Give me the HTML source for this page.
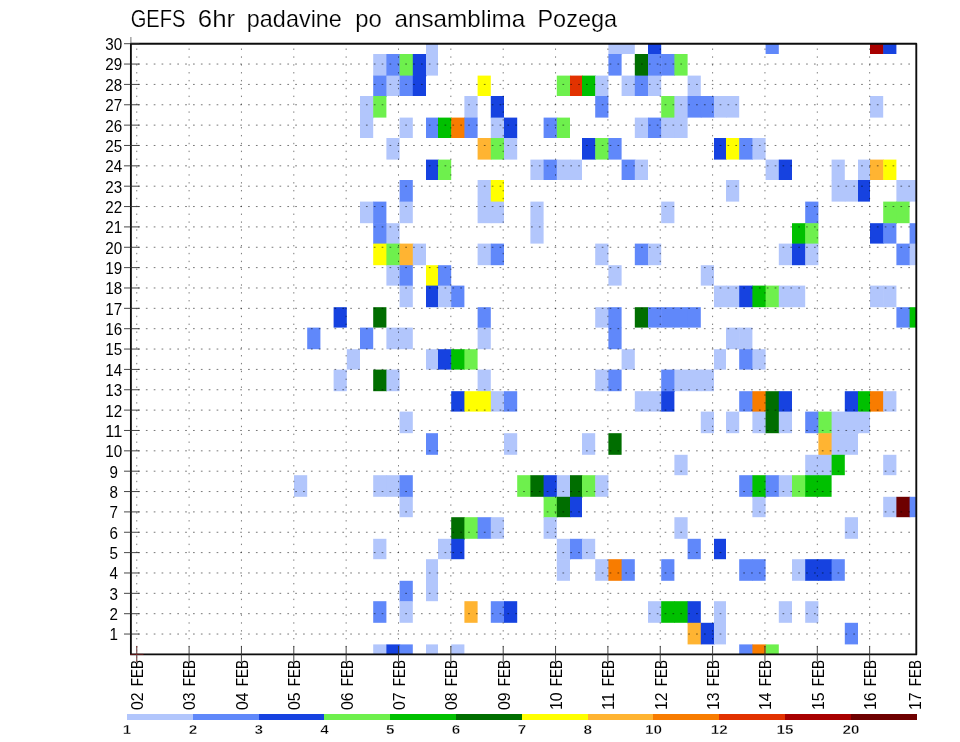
<!DOCTYPE html>
<html><head><meta charset="utf-8"><title>GEFS 6hr padavine po ansamblima Pozega</title>
<style>html,body{margin:0;padding:0;background:#fff;}body{width:960px;height:742px;overflow:hidden;font-family:"Liberation Sans",sans-serif;}svg{display:block;will-change:transform;}text{font-family:"Liberation Sans",sans-serif;fill:#000;}</style></head><body>
<svg width="960" height="742" viewBox="0 0 960 742">
<rect x="0" y="0" width="960" height="742" fill="#fff"/>
<defs><filter id="bl" x="0" y="0" width="960" height="742" filterUnits="userSpaceOnUse"><feGaussianBlur stdDeviation="0.4"/></filter><clipPath id="cp"><rect x="130.9" y="43.7" width="785.4" height="610.7"/></clipPath></defs>
<g filter="url(#bl)">
<g font-size="23.8" stroke="#fff" stroke-width="0.2">
<text x="130.7" y="26.5" textLength="54.8" lengthAdjust="spacingAndGlyphs">GEFS</text>
<text x="197.8" y="26.5" textLength="37.4" lengthAdjust="spacingAndGlyphs">6hr</text>
<text x="246.8" y="26.5" textLength="95.1" lengthAdjust="spacingAndGlyphs">padavine</text>
<text x="355.2" y="26.5" textLength="26.6" lengthAdjust="spacingAndGlyphs">po</text>
<text x="394.5" y="26.5" textLength="130.7" lengthAdjust="spacingAndGlyphs">ansamblima</text>
<text x="537.4" y="26.5" textLength="79.7" lengthAdjust="spacingAndGlyphs">Pozega</text>
</g>
<g clip-path="url(#cp)">
<rect x="426" y="33.6" width="12" height="21" fill="#B2C6FC"/>
<rect x="608.4" y="33.6" width="13.8" height="21" fill="#B2C6FC"/>
<rect x="621.6" y="33.6" width="13.2" height="20.4" fill="#B2C6FC"/>
<rect x="648" y="33.6" width="13.2" height="21" fill="#1443E0"/>
<rect x="765.6" y="33.6" width="13.2" height="20.4" fill="#6088FA"/>
<rect x="870" y="33.6" width="13.8" height="20.4" fill="#A80000"/>
<rect x="883.2" y="33.6" width="13.2" height="20.4" fill="#1443E0"/>
<rect x="373.2" y="54" width="13.8" height="22.2" fill="#B2C6FC"/>
<rect x="386.4" y="54" width="13.8" height="22.2" fill="#6088FA"/>
<rect x="399.6" y="54" width="13.8" height="22.2" fill="#6EF04E"/>
<rect x="412.8" y="54" width="13.8" height="22.2" fill="#1443E0"/>
<rect x="426" y="54" width="12" height="21.6" fill="#B2C6FC"/>
<rect x="608.4" y="54" width="13.2" height="21.6" fill="#6088FA"/>
<rect x="634.8" y="54" width="13.8" height="22.2" fill="#006E00"/>
<rect x="648" y="54" width="13.8" height="22.2" fill="#6088FA"/>
<rect x="661.2" y="54" width="13.8" height="21.6" fill="#6088FA"/>
<rect x="674.4" y="54" width="13.2" height="21.6" fill="#6EF04E"/>
<rect x="373.2" y="75.6" width="13.8" height="21" fill="#6088FA"/>
<rect x="386.4" y="75.6" width="13.8" height="20.4" fill="#B2C6FC"/>
<rect x="399.6" y="75.6" width="13.8" height="20.4" fill="#6088FA"/>
<rect x="412.8" y="75.6" width="13.2" height="20.4" fill="#1443E0"/>
<rect x="477.6" y="75.6" width="13.2" height="20.4" fill="#FFFF00"/>
<rect x="556.8" y="75.6" width="13.8" height="20.4" fill="#6EF04E"/>
<rect x="570" y="75.6" width="12.6" height="20.4" fill="#E23200"/>
<rect x="582" y="75.6" width="13.8" height="20.4" fill="#00C000"/>
<rect x="595.2" y="75.6" width="13.2" height="21" fill="#B2C6FC"/>
<rect x="621.6" y="75.6" width="13.8" height="20.4" fill="#B2C6FC"/>
<rect x="634.8" y="75.6" width="13.8" height="20.4" fill="#6088FA"/>
<rect x="648" y="75.6" width="13.2" height="20.4" fill="#B2C6FC"/>
<rect x="687.6" y="75.6" width="13.2" height="21" fill="#B2C6FC"/>
<rect x="360" y="96" width="13.8" height="22.2" fill="#B2C6FC"/>
<rect x="373.2" y="96" width="13.2" height="21.6" fill="#6EF04E"/>
<rect x="464.4" y="96" width="13.2" height="22.2" fill="#B2C6FC"/>
<rect x="490.8" y="96" width="13.2" height="22.2" fill="#1443E0"/>
<rect x="595.2" y="96" width="13.2" height="21.6" fill="#6088FA"/>
<rect x="661.2" y="96" width="13.8" height="22.2" fill="#6EF04E"/>
<rect x="674.4" y="96" width="13.8" height="22.2" fill="#B2C6FC"/>
<rect x="687.6" y="96" width="13.8" height="21.6" fill="#6088FA"/>
<rect x="700.8" y="96" width="13.8" height="21.6" fill="#6088FA"/>
<rect x="714" y="96" width="12.6" height="21.6" fill="#B2C6FC"/>
<rect x="726" y="96" width="13.2" height="21.6" fill="#B2C6FC"/>
<rect x="870" y="96" width="13.2" height="21.6" fill="#B2C6FC"/>
<rect x="360" y="117.6" width="13.2" height="20.4" fill="#B2C6FC"/>
<rect x="399.6" y="117.6" width="13.2" height="20.4" fill="#B2C6FC"/>
<rect x="426" y="117.6" width="12.6" height="20.4" fill="#6088FA"/>
<rect x="438" y="117.6" width="13.8" height="20.4" fill="#00C000"/>
<rect x="451.2" y="117.6" width="13.8" height="20.4" fill="#F87C00"/>
<rect x="464.4" y="117.6" width="13.2" height="20.4" fill="#6088FA"/>
<rect x="490.8" y="117.6" width="13.8" height="21" fill="#B2C6FC"/>
<rect x="504" y="117.6" width="13.2" height="21" fill="#1443E0"/>
<rect x="543.6" y="117.6" width="13.8" height="20.4" fill="#6088FA"/>
<rect x="556.8" y="117.6" width="13.2" height="20.4" fill="#6EF04E"/>
<rect x="634.8" y="117.6" width="13.8" height="20.4" fill="#B2C6FC"/>
<rect x="648" y="117.6" width="13.8" height="20.4" fill="#6088FA"/>
<rect x="661.2" y="117.6" width="13.8" height="20.4" fill="#B2C6FC"/>
<rect x="674.4" y="117.6" width="13.2" height="20.4" fill="#B2C6FC"/>
<rect x="386.4" y="138" width="13.2" height="21.6" fill="#B2C6FC"/>
<rect x="477.6" y="138" width="13.8" height="21.6" fill="#FFB432"/>
<rect x="490.8" y="138" width="13.8" height="21.6" fill="#6EF04E"/>
<rect x="504" y="138" width="13.2" height="21.6" fill="#B2C6FC"/>
<rect x="582" y="138" width="13.8" height="21.6" fill="#1443E0"/>
<rect x="595.2" y="138" width="13.8" height="21.6" fill="#6EF04E"/>
<rect x="608.4" y="138" width="13.2" height="21.6" fill="#6088FA"/>
<rect x="714" y="138" width="12.6" height="21.6" fill="#1443E0"/>
<rect x="726" y="138" width="13.8" height="21.6" fill="#FFFF00"/>
<rect x="739.2" y="138" width="13.8" height="21.6" fill="#6088FA"/>
<rect x="752.4" y="138" width="13.2" height="21.6" fill="#B2C6FC"/>
<rect x="426" y="159.6" width="12.6" height="20.4" fill="#1443E0"/>
<rect x="438" y="159.6" width="13.2" height="20.4" fill="#6EF04E"/>
<rect x="530.4" y="159.6" width="13.8" height="20.4" fill="#B2C6FC"/>
<rect x="543.6" y="159.6" width="13.8" height="20.4" fill="#6088FA"/>
<rect x="556.8" y="159.6" width="13.8" height="20.4" fill="#B2C6FC"/>
<rect x="570" y="159.6" width="12" height="20.4" fill="#B2C6FC"/>
<rect x="621.6" y="159.6" width="13.8" height="20.4" fill="#6088FA"/>
<rect x="634.8" y="159.6" width="13.2" height="20.4" fill="#B2C6FC"/>
<rect x="765.6" y="159.6" width="13.8" height="20.4" fill="#B2C6FC"/>
<rect x="778.8" y="159.6" width="13.2" height="20.4" fill="#1443E0"/>
<rect x="831.6" y="159.6" width="13.2" height="21" fill="#B2C6FC"/>
<rect x="858" y="159.6" width="12.6" height="21" fill="#B2C6FC"/>
<rect x="870" y="159.6" width="13.8" height="20.4" fill="#FFB432"/>
<rect x="883.2" y="159.6" width="13.2" height="20.4" fill="#FFFF00"/>
<rect x="399.6" y="180" width="13.2" height="22.2" fill="#6088FA"/>
<rect x="477.6" y="180" width="13.8" height="22.2" fill="#B2C6FC"/>
<rect x="490.8" y="180" width="13.2" height="22.2" fill="#FFFF00"/>
<rect x="726" y="180" width="13.2" height="21.6" fill="#B2C6FC"/>
<rect x="831.6" y="180" width="13.8" height="21.6" fill="#B2C6FC"/>
<rect x="844.8" y="180" width="13.8" height="21.6" fill="#B2C6FC"/>
<rect x="858" y="180" width="12" height="21.6" fill="#1443E0"/>
<rect x="896.4" y="180" width="13.8" height="22.2" fill="#B2C6FC"/>
<rect x="909.6" y="180" width="13.2" height="21.6" fill="#B2C6FC"/>
<rect x="360" y="201.6" width="13.8" height="21.6" fill="#B2C6FC"/>
<rect x="373.2" y="201.6" width="13.2" height="22.2" fill="#6088FA"/>
<rect x="399.6" y="201.6" width="13.2" height="21.6" fill="#B2C6FC"/>
<rect x="477.6" y="201.6" width="13.8" height="21.6" fill="#B2C6FC"/>
<rect x="490.8" y="201.6" width="13.2" height="21.6" fill="#B2C6FC"/>
<rect x="530.4" y="201.6" width="13.2" height="22.2" fill="#B2C6FC"/>
<rect x="661.2" y="201.6" width="13.2" height="21.6" fill="#B2C6FC"/>
<rect x="805.2" y="201.6" width="13.2" height="22.2" fill="#6088FA"/>
<rect x="883.2" y="201.6" width="13.8" height="22.2" fill="#6EF04E"/>
<rect x="896.4" y="201.6" width="13.2" height="21.6" fill="#6EF04E"/>
<rect x="373.2" y="223.2" width="13.8" height="21" fill="#6088FA"/>
<rect x="386.4" y="223.2" width="13.2" height="21" fill="#B2C6FC"/>
<rect x="530.4" y="223.2" width="13.2" height="20.4" fill="#B2C6FC"/>
<rect x="792" y="223.2" width="13.8" height="21" fill="#00C000"/>
<rect x="805.2" y="223.2" width="13.2" height="21" fill="#6EF04E"/>
<rect x="870" y="223.2" width="13.8" height="20.4" fill="#1443E0"/>
<rect x="883.2" y="223.2" width="13.2" height="20.4" fill="#6088FA"/>
<rect x="909.6" y="223.2" width="13.2" height="21" fill="#6088FA"/>
<rect x="373.2" y="243.6" width="13.8" height="21.6" fill="#FFFF00"/>
<rect x="386.4" y="243.6" width="13.8" height="22.2" fill="#6EF04E"/>
<rect x="399.6" y="243.6" width="13.8" height="22.2" fill="#FFB432"/>
<rect x="412.8" y="243.6" width="13.2" height="21.6" fill="#B2C6FC"/>
<rect x="477.6" y="243.6" width="13.8" height="21.6" fill="#B2C6FC"/>
<rect x="490.8" y="243.6" width="13.2" height="21.6" fill="#6088FA"/>
<rect x="595.2" y="243.6" width="13.2" height="21.6" fill="#B2C6FC"/>
<rect x="634.8" y="243.6" width="13.8" height="21.6" fill="#6088FA"/>
<rect x="648" y="243.6" width="13.2" height="21.6" fill="#B2C6FC"/>
<rect x="778.8" y="243.6" width="13.8" height="21.6" fill="#B2C6FC"/>
<rect x="792" y="243.6" width="13.8" height="21.6" fill="#1443E0"/>
<rect x="805.2" y="243.6" width="13.2" height="21.6" fill="#B2C6FC"/>
<rect x="896.4" y="243.6" width="13.8" height="21.6" fill="#6088FA"/>
<rect x="909.6" y="243.6" width="13.2" height="21.6" fill="#B2C6FC"/>
<rect x="386.4" y="265.2" width="13.8" height="20.4" fill="#B2C6FC"/>
<rect x="399.6" y="265.2" width="13.2" height="21" fill="#6088FA"/>
<rect x="426" y="265.2" width="12.6" height="21" fill="#FFFF00"/>
<rect x="438" y="265.2" width="13.2" height="21" fill="#6088FA"/>
<rect x="608.4" y="265.2" width="13.2" height="20.4" fill="#B2C6FC"/>
<rect x="700.8" y="265.2" width="13.2" height="20.4" fill="#B2C6FC"/>
<rect x="399.6" y="285.6" width="13.2" height="21.6" fill="#B2C6FC"/>
<rect x="426" y="285.6" width="12.6" height="21.6" fill="#1443E0"/>
<rect x="438" y="285.6" width="13.8" height="21.6" fill="#B2C6FC"/>
<rect x="451.2" y="285.6" width="13.2" height="21.6" fill="#6088FA"/>
<rect x="714" y="285.6" width="12.6" height="21.6" fill="#B2C6FC"/>
<rect x="726" y="285.6" width="13.8" height="21.6" fill="#B2C6FC"/>
<rect x="739.2" y="285.6" width="13.8" height="21.6" fill="#1443E0"/>
<rect x="752.4" y="285.6" width="13.8" height="21.6" fill="#00C000"/>
<rect x="765.6" y="285.6" width="13.8" height="21.6" fill="#6EF04E"/>
<rect x="778.8" y="285.6" width="13.8" height="21.6" fill="#B2C6FC"/>
<rect x="792" y="285.6" width="13.2" height="21.6" fill="#B2C6FC"/>
<rect x="870" y="285.6" width="13.8" height="21.6" fill="#B2C6FC"/>
<rect x="883.2" y="285.6" width="13.2" height="21.6" fill="#B2C6FC"/>
<rect x="333.6" y="307.2" width="13.2" height="20.4" fill="#1443E0"/>
<rect x="373.2" y="307.2" width="13.2" height="20.4" fill="#006E00"/>
<rect x="477.6" y="307.2" width="13.2" height="21" fill="#6088FA"/>
<rect x="595.2" y="307.2" width="13.8" height="20.4" fill="#B2C6FC"/>
<rect x="608.4" y="307.2" width="13.2" height="21" fill="#6088FA"/>
<rect x="634.8" y="307.2" width="13.8" height="20.4" fill="#006E00"/>
<rect x="648" y="307.2" width="13.8" height="20.4" fill="#6088FA"/>
<rect x="661.2" y="307.2" width="13.8" height="20.4" fill="#6088FA"/>
<rect x="674.4" y="307.2" width="13.8" height="20.4" fill="#6088FA"/>
<rect x="687.6" y="307.2" width="13.2" height="20.4" fill="#6088FA"/>
<rect x="896.4" y="307.2" width="13.8" height="20.4" fill="#6088FA"/>
<rect x="909.6" y="307.2" width="13.2" height="20.4" fill="#00C000"/>
<rect x="307.2" y="327.6" width="13.2" height="21.6" fill="#6088FA"/>
<rect x="360" y="327.6" width="13.2" height="21.6" fill="#6088FA"/>
<rect x="386.4" y="327.6" width="13.8" height="21.6" fill="#B2C6FC"/>
<rect x="399.6" y="327.6" width="13.2" height="21.6" fill="#B2C6FC"/>
<rect x="477.6" y="327.6" width="13.2" height="21.6" fill="#B2C6FC"/>
<rect x="608.4" y="327.6" width="13.2" height="21.6" fill="#6088FA"/>
<rect x="726" y="327.6" width="13.8" height="21.6" fill="#B2C6FC"/>
<rect x="739.2" y="327.6" width="13.2" height="22.2" fill="#B2C6FC"/>
<rect x="346.8" y="349.2" width="13.2" height="20.4" fill="#B2C6FC"/>
<rect x="426" y="349.2" width="12.6" height="20.4" fill="#B2C6FC"/>
<rect x="438" y="349.2" width="13.8" height="20.4" fill="#1443E0"/>
<rect x="451.2" y="349.2" width="13.8" height="20.4" fill="#00C000"/>
<rect x="464.4" y="349.2" width="13.2" height="20.4" fill="#6EF04E"/>
<rect x="621.6" y="349.2" width="13.2" height="20.4" fill="#B2C6FC"/>
<rect x="714" y="349.2" width="12" height="20.4" fill="#B2C6FC"/>
<rect x="739.2" y="349.2" width="13.8" height="20.4" fill="#6088FA"/>
<rect x="752.4" y="349.2" width="13.2" height="20.4" fill="#B2C6FC"/>
<rect x="333.6" y="369.6" width="13.2" height="21.6" fill="#B2C6FC"/>
<rect x="373.2" y="369.6" width="13.8" height="21.6" fill="#006E00"/>
<rect x="386.4" y="369.6" width="13.2" height="21.6" fill="#B2C6FC"/>
<rect x="477.6" y="369.6" width="13.2" height="22.2" fill="#B2C6FC"/>
<rect x="595.2" y="369.6" width="13.8" height="21.6" fill="#B2C6FC"/>
<rect x="608.4" y="369.6" width="13.2" height="21.6" fill="#6088FA"/>
<rect x="661.2" y="369.6" width="13.8" height="22.2" fill="#6088FA"/>
<rect x="674.4" y="369.6" width="13.8" height="21.6" fill="#B2C6FC"/>
<rect x="687.6" y="369.6" width="13.8" height="21.6" fill="#B2C6FC"/>
<rect x="700.8" y="369.6" width="13.2" height="21.6" fill="#B2C6FC"/>
<rect x="451.2" y="391.2" width="13.8" height="20.4" fill="#1443E0"/>
<rect x="464.4" y="391.2" width="13.8" height="20.4" fill="#FFFF00"/>
<rect x="477.6" y="391.2" width="13.8" height="20.4" fill="#FFFF00"/>
<rect x="490.8" y="391.2" width="13.8" height="20.4" fill="#B2C6FC"/>
<rect x="504" y="391.2" width="13.2" height="20.4" fill="#6088FA"/>
<rect x="634.8" y="391.2" width="13.8" height="20.4" fill="#B2C6FC"/>
<rect x="648" y="391.2" width="13.8" height="20.4" fill="#B2C6FC"/>
<rect x="661.2" y="391.2" width="13.2" height="20.4" fill="#1443E0"/>
<rect x="739.2" y="391.2" width="13.8" height="20.4" fill="#6088FA"/>
<rect x="752.4" y="391.2" width="13.8" height="21" fill="#F87C00"/>
<rect x="765.6" y="391.2" width="13.8" height="21" fill="#006E00"/>
<rect x="778.8" y="391.2" width="13.2" height="21" fill="#1443E0"/>
<rect x="844.8" y="391.2" width="13.8" height="21" fill="#1443E0"/>
<rect x="858" y="391.2" width="12.6" height="21" fill="#00C000"/>
<rect x="870" y="391.2" width="13.8" height="20.4" fill="#F87C00"/>
<rect x="883.2" y="391.2" width="13.2" height="20.4" fill="#B2C6FC"/>
<rect x="399.6" y="411.6" width="13.2" height="21.6" fill="#B2C6FC"/>
<rect x="700.8" y="411.6" width="13.2" height="21.6" fill="#B2C6FC"/>
<rect x="726" y="411.6" width="13.2" height="21.6" fill="#B2C6FC"/>
<rect x="752.4" y="411.6" width="13.8" height="21.6" fill="#B2C6FC"/>
<rect x="765.6" y="411.6" width="13.8" height="21.6" fill="#006E00"/>
<rect x="778.8" y="411.6" width="13.2" height="21.6" fill="#B2C6FC"/>
<rect x="805.2" y="411.6" width="13.8" height="21.6" fill="#6088FA"/>
<rect x="818.4" y="411.6" width="13.8" height="22.2" fill="#6EF04E"/>
<rect x="831.6" y="411.6" width="13.8" height="22.2" fill="#B2C6FC"/>
<rect x="844.8" y="411.6" width="13.8" height="22.2" fill="#B2C6FC"/>
<rect x="858" y="411.6" width="12" height="21.6" fill="#B2C6FC"/>
<rect x="426" y="433.2" width="12" height="21.6" fill="#6088FA"/>
<rect x="504" y="433.2" width="13.2" height="21.6" fill="#B2C6FC"/>
<rect x="582" y="433.2" width="13.2" height="21.6" fill="#B2C6FC"/>
<rect x="608.4" y="433.2" width="13.2" height="21.6" fill="#006E00"/>
<rect x="818.4" y="433.2" width="13.8" height="22.2" fill="#FFB432"/>
<rect x="831.6" y="433.2" width="13.8" height="22.2" fill="#B2C6FC"/>
<rect x="844.8" y="433.2" width="13.2" height="21.6" fill="#B2C6FC"/>
<rect x="674.4" y="454.8" width="13.2" height="20.4" fill="#B2C6FC"/>
<rect x="805.2" y="454.8" width="13.8" height="21" fill="#B2C6FC"/>
<rect x="818.4" y="454.8" width="13.8" height="21" fill="#B2C6FC"/>
<rect x="831.6" y="454.8" width="13.2" height="20.4" fill="#00C000"/>
<rect x="883.2" y="454.8" width="13.2" height="20.4" fill="#B2C6FC"/>
<rect x="294" y="475.2" width="13.2" height="21.6" fill="#B2C6FC"/>
<rect x="373.2" y="475.2" width="13.8" height="21.6" fill="#B2C6FC"/>
<rect x="386.4" y="475.2" width="13.8" height="21.6" fill="#B2C6FC"/>
<rect x="399.6" y="475.2" width="13.2" height="22.2" fill="#6088FA"/>
<rect x="517.2" y="475.2" width="13.8" height="21.6" fill="#6EF04E"/>
<rect x="530.4" y="475.2" width="13.8" height="21.6" fill="#006E00"/>
<rect x="543.6" y="475.2" width="13.8" height="22.2" fill="#1443E0"/>
<rect x="556.8" y="475.2" width="13.8" height="22.2" fill="#B2C6FC"/>
<rect x="570" y="475.2" width="12.6" height="22.2" fill="#006E00"/>
<rect x="582" y="475.2" width="13.8" height="21.6" fill="#6EF04E"/>
<rect x="595.2" y="475.2" width="13.2" height="21.6" fill="#B2C6FC"/>
<rect x="739.2" y="475.2" width="13.8" height="21.6" fill="#6088FA"/>
<rect x="752.4" y="475.2" width="13.8" height="22.2" fill="#00C000"/>
<rect x="765.6" y="475.2" width="13.8" height="21.6" fill="#6088FA"/>
<rect x="778.8" y="475.2" width="13.8" height="21.6" fill="#B2C6FC"/>
<rect x="792" y="475.2" width="13.8" height="21.6" fill="#6EF04E"/>
<rect x="805.2" y="475.2" width="13.8" height="21.6" fill="#00C000"/>
<rect x="818.4" y="475.2" width="13.2" height="21.6" fill="#00C000"/>
<rect x="399.6" y="496.8" width="13.2" height="20.4" fill="#B2C6FC"/>
<rect x="543.6" y="496.8" width="13.8" height="21" fill="#6EF04E"/>
<rect x="556.8" y="496.8" width="13.8" height="20.4" fill="#006E00"/>
<rect x="570" y="496.8" width="12" height="20.4" fill="#1443E0"/>
<rect x="752.4" y="496.8" width="13.2" height="20.4" fill="#B2C6FC"/>
<rect x="883.2" y="496.8" width="13.8" height="20.4" fill="#B2C6FC"/>
<rect x="896.4" y="496.8" width="13.8" height="20.4" fill="#6E0000"/>
<rect x="909.6" y="496.8" width="13.2" height="20.4" fill="#6088FA"/>
<rect x="451.2" y="517.2" width="13.8" height="22.2" fill="#006E00"/>
<rect x="464.4" y="517.2" width="13.8" height="21.6" fill="#6EF04E"/>
<rect x="477.6" y="517.2" width="13.8" height="21.6" fill="#6088FA"/>
<rect x="490.8" y="517.2" width="13.2" height="21.6" fill="#B2C6FC"/>
<rect x="543.6" y="517.2" width="13.2" height="21.6" fill="#B2C6FC"/>
<rect x="674.4" y="517.2" width="13.2" height="21.6" fill="#B2C6FC"/>
<rect x="844.8" y="517.2" width="13.2" height="21.6" fill="#B2C6FC"/>
<rect x="373.2" y="538.8" width="13.2" height="20.4" fill="#B2C6FC"/>
<rect x="438" y="538.8" width="13.8" height="20.4" fill="#B2C6FC"/>
<rect x="451.2" y="538.8" width="13.2" height="20.4" fill="#1443E0"/>
<rect x="556.8" y="538.8" width="13.8" height="21" fill="#B2C6FC"/>
<rect x="570" y="538.8" width="12.6" height="20.4" fill="#6088FA"/>
<rect x="582" y="538.8" width="13.2" height="20.4" fill="#B2C6FC"/>
<rect x="687.6" y="538.8" width="13.2" height="20.4" fill="#6088FA"/>
<rect x="714" y="538.8" width="12" height="20.4" fill="#1443E0"/>
<rect x="426" y="559.2" width="12" height="22.2" fill="#B2C6FC"/>
<rect x="556.8" y="559.2" width="13.2" height="21.6" fill="#B2C6FC"/>
<rect x="595.2" y="559.2" width="13.8" height="21.6" fill="#B2C6FC"/>
<rect x="608.4" y="559.2" width="13.8" height="21.6" fill="#F87C00"/>
<rect x="621.6" y="559.2" width="13.2" height="21.6" fill="#6088FA"/>
<rect x="661.2" y="559.2" width="13.2" height="21.6" fill="#6088FA"/>
<rect x="739.2" y="559.2" width="13.8" height="21.6" fill="#6088FA"/>
<rect x="752.4" y="559.2" width="13.2" height="21.6" fill="#6088FA"/>
<rect x="792" y="559.2" width="13.8" height="21.6" fill="#B2C6FC"/>
<rect x="805.2" y="559.2" width="13.8" height="21.6" fill="#1443E0"/>
<rect x="818.4" y="559.2" width="13.8" height="21.6" fill="#1443E0"/>
<rect x="831.6" y="559.2" width="13.2" height="21.6" fill="#6088FA"/>
<rect x="399.6" y="580.8" width="13.2" height="21" fill="#6088FA"/>
<rect x="426" y="580.8" width="12" height="20.4" fill="#B2C6FC"/>
<rect x="373.2" y="601.2" width="13.2" height="21.6" fill="#6088FA"/>
<rect x="399.6" y="601.2" width="13.2" height="21.6" fill="#B2C6FC"/>
<rect x="464.4" y="601.2" width="13.2" height="21.6" fill="#FFB432"/>
<rect x="490.8" y="601.2" width="13.8" height="21.6" fill="#6088FA"/>
<rect x="504" y="601.2" width="13.2" height="21.6" fill="#1443E0"/>
<rect x="648" y="601.2" width="13.8" height="21.6" fill="#B2C6FC"/>
<rect x="661.2" y="601.2" width="13.8" height="21.6" fill="#00C000"/>
<rect x="674.4" y="601.2" width="13.8" height="21.6" fill="#00C000"/>
<rect x="687.6" y="601.2" width="13.2" height="22.2" fill="#1443E0"/>
<rect x="714" y="601.2" width="12" height="22.2" fill="#B2C6FC"/>
<rect x="778.8" y="601.2" width="13.2" height="21.6" fill="#B2C6FC"/>
<rect x="805.2" y="601.2" width="13.2" height="21.6" fill="#B2C6FC"/>
<rect x="687.6" y="622.8" width="13.8" height="21.6" fill="#FFB432"/>
<rect x="700.8" y="622.8" width="13.8" height="21.6" fill="#1443E0"/>
<rect x="714" y="622.8" width="12" height="21.6" fill="#B2C6FC"/>
<rect x="844.8" y="622.8" width="13.2" height="21.6" fill="#6088FA"/>
<rect x="373.2" y="644.4" width="13.8" height="20.4" fill="#B2C6FC"/>
<rect x="386.4" y="644.4" width="13.8" height="20.4" fill="#1443E0"/>
<rect x="399.6" y="644.4" width="13.2" height="20.4" fill="#6088FA"/>
<rect x="426" y="644.4" width="12" height="20.4" fill="#B2C6FC"/>
<rect x="451.2" y="644.4" width="13.2" height="20.4" fill="#B2C6FC"/>
<rect x="739.2" y="644.4" width="13.8" height="20.4" fill="#6088FA"/>
<rect x="752.4" y="644.4" width="13.8" height="20.4" fill="#F87C00"/>
<rect x="765.6" y="644.4" width="13.2" height="20.4" fill="#6EF04E"/>
</g>
<g stroke="#000" stroke-opacity="0.6" stroke-width="0.9" stroke-dasharray="1.7 6.16" fill="none">
<line x1="130.9" y1="634.04" x2="916.3" y2="634.04" stroke-dashoffset="0.75"/>
<line x1="130.9" y1="613.69" x2="916.3" y2="613.69" stroke-dashoffset="0.75"/>
<line x1="130.9" y1="593.33" x2="916.3" y2="593.33" stroke-dashoffset="0.75"/>
<line x1="130.9" y1="572.97" x2="916.3" y2="572.97" stroke-dashoffset="0.75"/>
<line x1="130.9" y1="552.62" x2="916.3" y2="552.62" stroke-dashoffset="0.75"/>
<line x1="130.9" y1="532.26" x2="916.3" y2="532.26" stroke-dashoffset="0.75"/>
<line x1="130.9" y1="511.9" x2="916.3" y2="511.9" stroke-dashoffset="0.75"/>
<line x1="130.9" y1="491.55" x2="916.3" y2="491.55" stroke-dashoffset="0.75"/>
<line x1="130.9" y1="471.19" x2="916.3" y2="471.19" stroke-dashoffset="0.75"/>
<line x1="130.9" y1="450.83" x2="916.3" y2="450.83" stroke-dashoffset="0.75"/>
<line x1="130.9" y1="430.48" x2="916.3" y2="430.48" stroke-dashoffset="0.75"/>
<line x1="130.9" y1="410.12" x2="916.3" y2="410.12" stroke-dashoffset="0.75"/>
<line x1="130.9" y1="389.76" x2="916.3" y2="389.76" stroke-dashoffset="0.75"/>
<line x1="130.9" y1="369.41" x2="916.3" y2="369.41" stroke-dashoffset="0.75"/>
<line x1="130.9" y1="349.05" x2="916.3" y2="349.05" stroke-dashoffset="0.75"/>
<line x1="130.9" y1="328.69" x2="916.3" y2="328.69" stroke-dashoffset="0.75"/>
<line x1="130.9" y1="308.34" x2="916.3" y2="308.34" stroke-dashoffset="0.75"/>
<line x1="130.9" y1="287.98" x2="916.3" y2="287.98" stroke-dashoffset="0.75"/>
<line x1="130.9" y1="267.62" x2="916.3" y2="267.62" stroke-dashoffset="0.75"/>
<line x1="130.9" y1="247.27" x2="916.3" y2="247.27" stroke-dashoffset="0.75"/>
<line x1="130.9" y1="226.91" x2="916.3" y2="226.91" stroke-dashoffset="0.75"/>
<line x1="130.9" y1="206.55" x2="916.3" y2="206.55" stroke-dashoffset="0.75"/>
<line x1="130.9" y1="186.2" x2="916.3" y2="186.2" stroke-dashoffset="0.75"/>
<line x1="130.9" y1="165.84" x2="916.3" y2="165.84" stroke-dashoffset="0.75"/>
<line x1="130.9" y1="145.48" x2="916.3" y2="145.48" stroke-dashoffset="0.75"/>
<line x1="130.9" y1="125.13" x2="916.3" y2="125.13" stroke-dashoffset="0.75"/>
<line x1="130.9" y1="104.77" x2="916.3" y2="104.77" stroke-dashoffset="0.75"/>
<line x1="130.9" y1="84.41" x2="916.3" y2="84.41" stroke-dashoffset="0.75"/>
<line x1="130.9" y1="64.06" x2="916.3" y2="64.06" stroke-dashoffset="0.75"/>
</g>
<g stroke="#000" stroke-opacity="0.52" stroke-width="1" stroke-dasharray="1.4 6.46" fill="none">
<line x1="136.75" y1="43.7" x2="136.75" y2="654.4" stroke-dashoffset="-4.8"/>
<line x1="189.1" y1="43.7" x2="189.1" y2="654.4" stroke-dashoffset="-4.8"/>
<line x1="241.45" y1="43.7" x2="241.45" y2="654.4" stroke-dashoffset="-4.8"/>
<line x1="293.8" y1="43.7" x2="293.8" y2="654.4" stroke-dashoffset="-4.8"/>
<line x1="346.15" y1="43.7" x2="346.15" y2="654.4" stroke-dashoffset="-4.8"/>
<line x1="398.5" y1="43.7" x2="398.5" y2="654.4" stroke-dashoffset="-4.8"/>
<line x1="450.85" y1="43.7" x2="450.85" y2="654.4" stroke-dashoffset="-4.8"/>
<line x1="503.2" y1="43.7" x2="503.2" y2="654.4" stroke-dashoffset="-4.8"/>
<line x1="555.55" y1="43.7" x2="555.55" y2="654.4" stroke-dashoffset="-4.8"/>
<line x1="607.9" y1="43.7" x2="607.9" y2="654.4" stroke-dashoffset="-4.8"/>
<line x1="660.25" y1="43.7" x2="660.25" y2="654.4" stroke-dashoffset="-4.8"/>
<line x1="712.6" y1="43.7" x2="712.6" y2="654.4" stroke-dashoffset="-4.8"/>
<line x1="764.95" y1="43.7" x2="764.95" y2="654.4" stroke-dashoffset="-4.8"/>
<line x1="817.3" y1="43.7" x2="817.3" y2="654.4" stroke-dashoffset="-4.8"/>
<line x1="869.65" y1="43.7" x2="869.65" y2="654.4" stroke-dashoffset="-4.8"/>
</g>
<rect x="130.9" y="43.7" width="785.4" height="610.7" fill="none" stroke="#0a0a0a" stroke-width="1.85" stroke-linejoin="round"/>
<g stroke="#333" stroke-width="0.9">
<line x1="124" y1="634.04" x2="139.5" y2="634.04"/>
<line x1="124" y1="613.69" x2="139.5" y2="613.69"/>
<line x1="124" y1="593.33" x2="139.5" y2="593.33"/>
<line x1="124" y1="572.97" x2="139.5" y2="572.97"/>
<line x1="124" y1="552.62" x2="139.5" y2="552.62"/>
<line x1="124" y1="532.26" x2="139.5" y2="532.26"/>
<line x1="124" y1="511.9" x2="139.5" y2="511.9"/>
<line x1="124" y1="491.55" x2="139.5" y2="491.55"/>
<line x1="124" y1="471.19" x2="139.5" y2="471.19"/>
<line x1="124" y1="450.83" x2="139.5" y2="450.83"/>
<line x1="124" y1="430.48" x2="139.5" y2="430.48"/>
<line x1="124" y1="410.12" x2="139.5" y2="410.12"/>
<line x1="124" y1="389.76" x2="139.5" y2="389.76"/>
<line x1="124" y1="369.41" x2="139.5" y2="369.41"/>
<line x1="124" y1="349.05" x2="139.5" y2="349.05"/>
<line x1="124" y1="328.69" x2="139.5" y2="328.69"/>
<line x1="124" y1="308.34" x2="139.5" y2="308.34"/>
<line x1="124" y1="287.98" x2="139.5" y2="287.98"/>
<line x1="124" y1="267.62" x2="139.5" y2="267.62"/>
<line x1="124" y1="247.27" x2="139.5" y2="247.27"/>
<line x1="124" y1="226.91" x2="139.5" y2="226.91"/>
<line x1="124" y1="206.55" x2="139.5" y2="206.55"/>
<line x1="124" y1="186.2" x2="139.5" y2="186.2"/>
<line x1="124" y1="165.84" x2="139.5" y2="165.84"/>
<line x1="124" y1="145.48" x2="139.5" y2="145.48"/>
<line x1="124" y1="125.13" x2="139.5" y2="125.13"/>
<line x1="124" y1="104.77" x2="139.5" y2="104.77"/>
<line x1="124" y1="84.41" x2="139.5" y2="84.41"/>
<line x1="124" y1="64.06" x2="139.5" y2="64.06"/>
<line x1="124" y1="43.7" x2="139.5" y2="43.7"/>
<line x1="136.75" y1="646" x2="136.75" y2="662"/>
<line x1="189.1" y1="646" x2="189.1" y2="662"/>
<line x1="241.45" y1="646" x2="241.45" y2="662"/>
<line x1="293.8" y1="646" x2="293.8" y2="662"/>
<line x1="346.15" y1="646" x2="346.15" y2="662"/>
<line x1="398.5" y1="646" x2="398.5" y2="662"/>
<line x1="450.85" y1="646" x2="450.85" y2="662"/>
<line x1="503.2" y1="646" x2="503.2" y2="662"/>
<line x1="555.55" y1="646" x2="555.55" y2="662"/>
<line x1="607.9" y1="646" x2="607.9" y2="662"/>
<line x1="660.25" y1="646" x2="660.25" y2="662"/>
<line x1="712.6" y1="646" x2="712.6" y2="662"/>
<line x1="764.95" y1="646" x2="764.95" y2="662"/>
<line x1="817.3" y1="646" x2="817.3" y2="662"/>
<line x1="869.65" y1="646" x2="869.65" y2="662"/>
</g>
<line x1="130" y1="654.4" x2="143.5" y2="654.4" stroke="#a52a2a" stroke-width="0.7" stroke-opacity="0.8"/>
<line x1="136.75" y1="646" x2="136.75" y2="662" stroke="#b03030" stroke-width="0.8" stroke-opacity="0.7" stroke-dasharray="2.2 1.2"/>
<line x1="130.9" y1="37" x2="130.9" y2="43" stroke="#555" stroke-width="0.8"/>
<g font-size="16.5">
<text x="109.58" y="640.44" textLength="8.45" lengthAdjust="spacingAndGlyphs">1</text>
<text x="109.58" y="620.09" textLength="8.45" lengthAdjust="spacingAndGlyphs">2</text>
<text x="109.58" y="599.73" textLength="8.45" lengthAdjust="spacingAndGlyphs">3</text>
<text x="109.58" y="579.37" textLength="8.45" lengthAdjust="spacingAndGlyphs">4</text>
<text x="109.58" y="559.02" textLength="8.45" lengthAdjust="spacingAndGlyphs">5</text>
<text x="109.58" y="538.66" textLength="8.45" lengthAdjust="spacingAndGlyphs">6</text>
<text x="109.58" y="518.3" textLength="8.45" lengthAdjust="spacingAndGlyphs">7</text>
<text x="109.58" y="497.95" textLength="8.45" lengthAdjust="spacingAndGlyphs">8</text>
<text x="109.58" y="477.59" textLength="8.45" lengthAdjust="spacingAndGlyphs">9</text>
<text x="105.35" y="457.23" textLength="16.9" lengthAdjust="spacingAndGlyphs">10</text>
<text x="105.35" y="436.88" textLength="16.9" lengthAdjust="spacingAndGlyphs">11</text>
<text x="105.35" y="416.52" textLength="16.9" lengthAdjust="spacingAndGlyphs">12</text>
<text x="105.35" y="396.16" textLength="16.9" lengthAdjust="spacingAndGlyphs">13</text>
<text x="105.35" y="375.81" textLength="16.9" lengthAdjust="spacingAndGlyphs">14</text>
<text x="105.35" y="355.45" textLength="16.9" lengthAdjust="spacingAndGlyphs">15</text>
<text x="105.35" y="335.09" textLength="16.9" lengthAdjust="spacingAndGlyphs">16</text>
<text x="105.35" y="314.74" textLength="16.9" lengthAdjust="spacingAndGlyphs">17</text>
<text x="105.35" y="294.38" textLength="16.9" lengthAdjust="spacingAndGlyphs">18</text>
<text x="105.35" y="274.02" textLength="16.9" lengthAdjust="spacingAndGlyphs">19</text>
<text x="105.35" y="253.67" textLength="16.9" lengthAdjust="spacingAndGlyphs">20</text>
<text x="105.35" y="233.31" textLength="16.9" lengthAdjust="spacingAndGlyphs">21</text>
<text x="105.35" y="212.95" textLength="16.9" lengthAdjust="spacingAndGlyphs">22</text>
<text x="105.35" y="192.6" textLength="16.9" lengthAdjust="spacingAndGlyphs">23</text>
<text x="105.35" y="172.24" textLength="16.9" lengthAdjust="spacingAndGlyphs">24</text>
<text x="105.35" y="151.88" textLength="16.9" lengthAdjust="spacingAndGlyphs">25</text>
<text x="105.35" y="131.53" textLength="16.9" lengthAdjust="spacingAndGlyphs">26</text>
<text x="105.35" y="111.17" textLength="16.9" lengthAdjust="spacingAndGlyphs">27</text>
<text x="105.35" y="90.81" textLength="16.9" lengthAdjust="spacingAndGlyphs">28</text>
<text x="105.35" y="70.46" textLength="16.9" lengthAdjust="spacingAndGlyphs">29</text>
<text x="105.35" y="50.1" textLength="16.9" lengthAdjust="spacingAndGlyphs">30</text>
</g>
<g font-size="17.3">
<text transform="translate(143.1,710.1) rotate(-90)" textLength="17.6" lengthAdjust="spacingAndGlyphs">02</text>
<text transform="translate(143.1,686.3) rotate(-90)" textLength="26.5" lengthAdjust="spacingAndGlyphs">FEB</text>
<text transform="translate(195.45,710.1) rotate(-90)" textLength="17.6" lengthAdjust="spacingAndGlyphs">03</text>
<text transform="translate(195.45,686.3) rotate(-90)" textLength="26.5" lengthAdjust="spacingAndGlyphs">FEB</text>
<text transform="translate(247.8,710.1) rotate(-90)" textLength="17.6" lengthAdjust="spacingAndGlyphs">04</text>
<text transform="translate(247.8,686.3) rotate(-90)" textLength="26.5" lengthAdjust="spacingAndGlyphs">FEB</text>
<text transform="translate(300.15,710.1) rotate(-90)" textLength="17.6" lengthAdjust="spacingAndGlyphs">05</text>
<text transform="translate(300.15,686.3) rotate(-90)" textLength="26.5" lengthAdjust="spacingAndGlyphs">FEB</text>
<text transform="translate(352.5,710.1) rotate(-90)" textLength="17.6" lengthAdjust="spacingAndGlyphs">06</text>
<text transform="translate(352.5,686.3) rotate(-90)" textLength="26.5" lengthAdjust="spacingAndGlyphs">FEB</text>
<text transform="translate(404.85,710.1) rotate(-90)" textLength="17.6" lengthAdjust="spacingAndGlyphs">07</text>
<text transform="translate(404.85,686.3) rotate(-90)" textLength="26.5" lengthAdjust="spacingAndGlyphs">FEB</text>
<text transform="translate(457.2,710.1) rotate(-90)" textLength="17.6" lengthAdjust="spacingAndGlyphs">08</text>
<text transform="translate(457.2,686.3) rotate(-90)" textLength="26.5" lengthAdjust="spacingAndGlyphs">FEB</text>
<text transform="translate(509.55,710.1) rotate(-90)" textLength="17.6" lengthAdjust="spacingAndGlyphs">09</text>
<text transform="translate(509.55,686.3) rotate(-90)" textLength="26.5" lengthAdjust="spacingAndGlyphs">FEB</text>
<text transform="translate(561.9,710.1) rotate(-90)" textLength="17.6" lengthAdjust="spacingAndGlyphs">10</text>
<text transform="translate(561.9,686.3) rotate(-90)" textLength="26.5" lengthAdjust="spacingAndGlyphs">FEB</text>
<text transform="translate(614.25,710.1) rotate(-90)" textLength="17.6" lengthAdjust="spacingAndGlyphs">11</text>
<text transform="translate(614.25,686.3) rotate(-90)" textLength="26.5" lengthAdjust="spacingAndGlyphs">FEB</text>
<text transform="translate(666.6,710.1) rotate(-90)" textLength="17.6" lengthAdjust="spacingAndGlyphs">12</text>
<text transform="translate(666.6,686.3) rotate(-90)" textLength="26.5" lengthAdjust="spacingAndGlyphs">FEB</text>
<text transform="translate(718.95,710.1) rotate(-90)" textLength="17.6" lengthAdjust="spacingAndGlyphs">13</text>
<text transform="translate(718.95,686.3) rotate(-90)" textLength="26.5" lengthAdjust="spacingAndGlyphs">FEB</text>
<text transform="translate(771.3,710.1) rotate(-90)" textLength="17.6" lengthAdjust="spacingAndGlyphs">14</text>
<text transform="translate(771.3,686.3) rotate(-90)" textLength="26.5" lengthAdjust="spacingAndGlyphs">FEB</text>
<text transform="translate(823.65,710.1) rotate(-90)" textLength="17.6" lengthAdjust="spacingAndGlyphs">15</text>
<text transform="translate(823.65,686.3) rotate(-90)" textLength="26.5" lengthAdjust="spacingAndGlyphs">FEB</text>
<text transform="translate(876,710.1) rotate(-90)" textLength="17.6" lengthAdjust="spacingAndGlyphs">16</text>
<text transform="translate(876,686.3) rotate(-90)" textLength="26.5" lengthAdjust="spacingAndGlyphs">FEB</text>
<text transform="translate(921.15,710.1) rotate(-90)" textLength="17.6" lengthAdjust="spacingAndGlyphs">17</text>
<text transform="translate(921.15,686.3) rotate(-90)" textLength="26.5" lengthAdjust="spacingAndGlyphs">FEB</text>
</g>
<g shape-rendering="crispEdges">
<rect x="127" y="714.3" width="65.9" height="5.9" fill="#B2C6FC"/>
<rect x="192.8" y="714.3" width="65.9" height="5.9" fill="#6088FA"/>
<rect x="258.6" y="714.3" width="65.9" height="5.9" fill="#1443E0"/>
<rect x="324.4" y="714.3" width="65.9" height="5.9" fill="#6EF04E"/>
<rect x="390.2" y="714.3" width="65.9" height="5.9" fill="#00C000"/>
<rect x="456" y="714.3" width="65.9" height="5.9" fill="#006E00"/>
<rect x="521.8" y="714.3" width="65.9" height="5.9" fill="#FFFF00"/>
<rect x="587.6" y="714.3" width="65.9" height="5.9" fill="#FFB432"/>
<rect x="653.4" y="714.3" width="65.9" height="5.9" fill="#F87C00"/>
<rect x="719.2" y="714.3" width="65.9" height="5.9" fill="#E23200"/>
<rect x="785" y="714.3" width="65.9" height="5.9" fill="#A80000"/>
<rect x="850.8" y="714.3" width="65.9" height="5.9" fill="#6E0000"/>
</g>
<g font-size="13.4" font-weight="bold" stroke="#fff" stroke-width="0.35">
<text x="122.85" y="734" textLength="8.5" lengthAdjust="spacingAndGlyphs">1</text>
<text x="188.65" y="734" textLength="8.5" lengthAdjust="spacingAndGlyphs">2</text>
<text x="254.45" y="734" textLength="8.5" lengthAdjust="spacingAndGlyphs">3</text>
<text x="320.25" y="734" textLength="8.5" lengthAdjust="spacingAndGlyphs">4</text>
<text x="386.05" y="734" textLength="8.5" lengthAdjust="spacingAndGlyphs">5</text>
<text x="451.85" y="734" textLength="8.5" lengthAdjust="spacingAndGlyphs">6</text>
<text x="517.65" y="734" textLength="8.5" lengthAdjust="spacingAndGlyphs">7</text>
<text x="583.45" y="734" textLength="8.5" lengthAdjust="spacingAndGlyphs">8</text>
<text x="645" y="734" textLength="17" lengthAdjust="spacingAndGlyphs">10</text>
<text x="710.8" y="734" textLength="17" lengthAdjust="spacingAndGlyphs">12</text>
<text x="776.6" y="734" textLength="17" lengthAdjust="spacingAndGlyphs">15</text>
<text x="842.4" y="734" textLength="17" lengthAdjust="spacingAndGlyphs">20</text>
</g>
</g>
</svg></body></html>
